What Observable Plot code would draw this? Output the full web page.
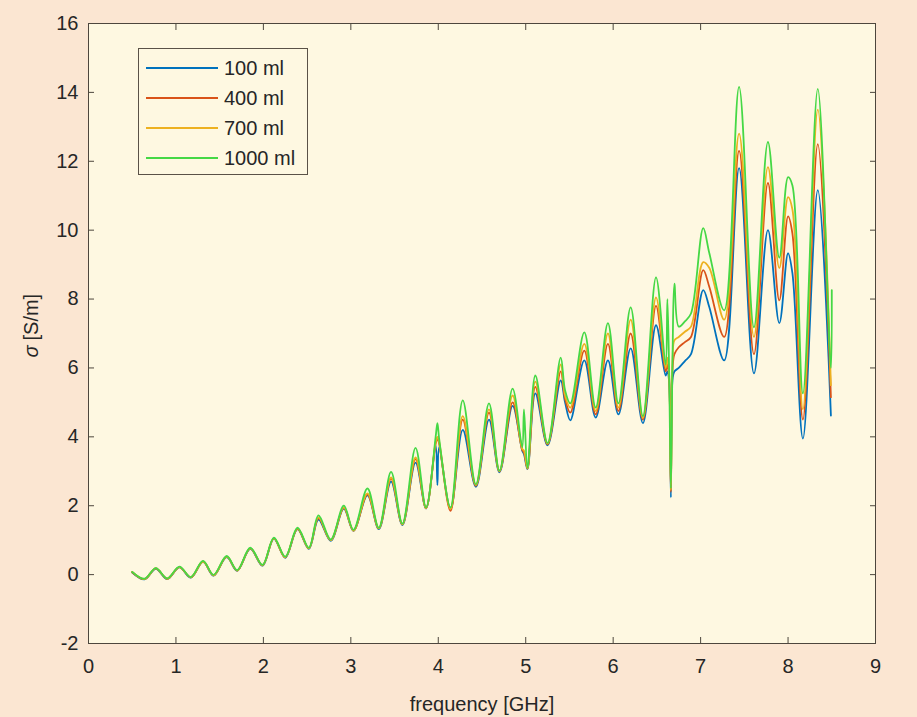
<!DOCTYPE html>
<html>
<head>
<meta charset="utf-8">
<script src="https://cdn.jsdelivr.net/npm/d3@7"></script>
<script src="https://cdn.jsdelivr.net/npm/@observablehq/plot@0.6"></script>
<style>
  body { margin: 0; background: #fbe6d2; }
  #wrap { position: relative; width: 917px; height: 717px; }
  #legend {
    position: absolute; left: 138px; top: 48px; width: 170px; height: 127px;
    box-sizing: border-box; border: 1.5px solid #5a5247; background: #fef8e1;
    font-family: "Liberation Sans", Arial, Helvetica, sans-serif; font-size: 20px; color: #262626;
  }
  #legend .row { position: absolute; left: 0; height: 22px; display: flex; align-items: center; }
  #legend .sw { width: 72px; height: 2px; margin-left: 7px; margin-right: 6px; }
</style>
</head>
<body>
<div id="wrap"><div id="legend"></div></div>
<script>
// Conductivity spectra for four sample volumes
const series = ["100 ml", "400 ml", "700 ml", "1000 ml"];
const colors = ["#0072BD", "#D95319", "#EDB120", "#45d845"];

const freq = [0.50, 0.64, 0.77, 0.90, 1.04, 1.17, 1.31, 1.43, 1.58, 1.70, 1.85, 1.99, 2.12, 2.25, 2.39, 2.52,
  2.63, 2.77, 2.92, 3.03, 3.19, 3.32, 3.46, 3.59, 3.74, 3.86, 3.97, 3.99, 4.01, 4.14, 4.28, 4.43, 4.58, 4.70,
  4.85, 4.96, 4.98, 5.02, 5.11, 5.25, 5.40, 5.45, 5.51, 5.67, 5.80, 5.94, 6.06, 6.20, 6.34, 6.49, 6.60, 6.62,
  6.64, 6.66, 6.68, 6.70, 6.75, 6.82, 6.89, 7.03, 7.10, 7.27, 7.44, 7.61, 7.77, 7.90, 8.00, 8.05, 8.17, 8.34,
  8.49, 8.50];

const sigma100 = [0.06, -0.14, 0.17, -0.13, 0.21, -0.09, 0.37, -0.03, 0.51, 0.11, 0.75, 0.26, 1.04, 0.49, 1.32, 0.75,
  1.60, 0.98, 1.92, 1.27, 2.30, 1.32, 2.70, 1.44, 3.25, 1.92, 3.75, 2.60, 3.70, 1.90, 4.20, 2.55, 4.50, 2.97,
  4.90, 3.60, 3.50, 3.06, 5.26, 3.75, 5.64, 5.00, 4.48, 6.22, 4.56, 6.22, 4.65, 6.57, 4.40, 7.24, 5.78, 5.90,
  5.60, 2.24, 5.70, 5.90, 6.00, 6.20, 6.40, 8.26, 7.76, 6.22, 11.80, 5.84, 10.00, 7.30, 9.33, 8.75, 3.95, 11.16,
  4.62, null];

const sigma400 = [0.07, -0.13, 0.18, -0.12, 0.22, -0.08, 0.38, -0.02, 0.52, 0.12, 0.76, 0.27, 1.05, 0.50, 1.33, 0.76,
  1.64, 1.00, 1.94, 1.28, 2.33, 1.34, 2.78, 1.46, 3.35, 1.93, 3.80, 3.95, 3.80, 1.85, 4.50, 2.58, 4.70, 3.00,
  5.00, 3.62, 3.55, 3.08, 5.45, 3.78, 5.90, 5.10, 4.70, 6.50, 4.65, 6.70, 4.75, 7.00, 4.50, 7.80, 5.90, 6.10,
  5.70, 2.40, 6.00, 6.40, 6.60, 6.75, 6.90, 8.84, 8.35, 6.90, 12.30, 6.40, 11.37, 7.96, 10.40, 9.90, 4.50, 12.50,
  5.15, null];

const sigma700 = [0.08, -0.13, 0.18, -0.12, 0.22, -0.08, 0.38, -0.02, 0.52, 0.12, 0.76, 0.27, 1.05, 0.50, 1.34, 0.76,
  1.66, 1.00, 1.95, 1.28, 2.36, 1.34, 2.82, 1.46, 3.40, 1.93, 3.85, 4.00, 3.85, 1.90, 4.60, 2.60, 4.80, 3.00,
  5.20, 3.65, 3.60, 3.08, 5.60, 3.80, 6.10, 5.20, 4.85, 6.70, 4.75, 7.00, 4.85, 7.40, 4.55, 8.05, 6.00, 6.30,
  5.80, 2.45, 6.30, 6.80, 6.90, 7.05, 7.20, 9.07, 8.90, 7.40, 12.80, 6.90, 11.83, 8.90, 10.96, 10.60, 4.80, 13.50,
  5.50, null];

const sigma1000 = [0.08, -0.12, 0.19, -0.11, 0.23, -0.07, 0.40, -0.01, 0.54, 0.13, 0.78, 0.28, 1.07, 0.52, 1.36, 0.78,
  1.72, 1.02, 2.00, 1.30, 2.50, 1.36, 2.98, 1.48, 3.68, 1.95, 4.00, 4.40, 3.95, 1.95, 5.06, 2.62, 4.97, 3.02,
  5.40, 3.70, 4.80, 3.10, 5.78, 3.82, 6.30, 5.35, 4.97, 7.03, 4.85, 7.30, 4.97, 7.76, 4.60, 8.63, 6.10, 8.00,
  5.90, 2.50, 6.50, 8.45, 7.20, 7.35, 7.58, 10.06, 9.33, 7.67, 14.16, 7.18, 12.56, 9.20, 11.54, 11.30, 5.26, 14.10,
  6.00, 8.26];

const xTicks = [0, 1, 2, 3, 4, 5, 6, 7, 8, 9];
const yTicks = [-2, 0, 2, 4, 6, 8, 10, 12, 14, 16];

// long-format rows for the line mark
const valueSets = [sigma100, sigma400, sigma700, sigma1000];
const rows = [];
series.forEach((s, k) => freq.forEach((f, i) => rows.push({series: s, f, v: valueSets[k][i]})));

const font = '"Liberation Sans", Arial, Helvetica, sans-serif';
const ink = "#262626";
const edge = "#4d463d";
const plain = d => String(d); // keep an ASCII hyphen for negatives

const chart = Plot.plot({
  width: 917,
  height: 717,
  marginLeft: 88,
  marginRight: 42,
  marginTop: 23,
  marginBottom: 74,
  style: {background: "#fbe6d2", fontFamily: font, fontSize: "20px", color: ink},
  x: {domain: [0, 9]},
  y: {domain: [-2, 16]},
  color: {domain: series, range: colors},
  marks: [
    Plot.frame({fill: "#fef8e1", stroke: null}),
    Plot.line(rows, {x: "f", y: "v", z: "series", stroke: "series", strokeWidth: 1.8, curve: "catmull-rom"}),
    Plot.frame({stroke: edge, strokeWidth: 1}),
    // tick labels
    Plot.axisX(xTicks, {anchor: "bottom", tickSize: 0, tickPadding: 15, tickFormat: plain, label: null, fontSize: 20, fill: ink}),
    Plot.axisY(yTicks, {anchor: "left", tickSize: 0, tickPadding: 10, tickFormat: plain, label: null, fontSize: 20, fill: ink}),
    // inward tick marks on all four sides
    Plot.axisX(xTicks, {anchor: "bottom", tickSize: 6, insetBottom: 6, tickFormat: () => "", label: null, stroke: edge}),
    Plot.axisX(xTicks, {anchor: "top", tickSize: 6, insetTop: 6, tickFormat: () => "", label: null, stroke: edge}),
    Plot.axisY(yTicks, {anchor: "left", tickSize: 6, insetLeft: 6, tickFormat: () => "", label: null, stroke: edge}),
    Plot.axisY(yTicks, {anchor: "right", tickSize: 6, insetRight: 6, tickFormat: () => "", label: null, stroke: edge}),
    // axis titles
    Plot.text(["frequency [GHz]"], {frameAnchor: "bottom", dy: 67, text: d => d, fontSize: 20, fill: ink}),
    Plot.text(["σ"], {frameAnchor: "left", dx: -57, dy: 24, rotate: -90, textAnchor: "start", text: d => d, fontSize: 20, fontStyle: "italic", fill: ink}),
    Plot.text(["[S/m]"], {frameAnchor: "left", dx: -57, dy: 7, rotate: -90, textAnchor: "start", text: d => d, fontSize: 20, fill: ink})
  ]
});

const wrap = document.getElementById("wrap");
wrap.insertBefore(chart, wrap.firstChild);

// legend box
const legend = document.getElementById("legend");
series.forEach((s, i) => {
  const row = document.createElement("div");
  row.className = "row";
  row.style.top = (8 + i * 30) + "px";
  const sw = document.createElement("span");
  sw.className = "sw";
  sw.style.background = colors[i];
  const lab = document.createElement("span");
  lab.textContent = s;
  row.appendChild(sw);
  row.appendChild(lab);
  legend.appendChild(row);
});
</script>
</body>
</html>
